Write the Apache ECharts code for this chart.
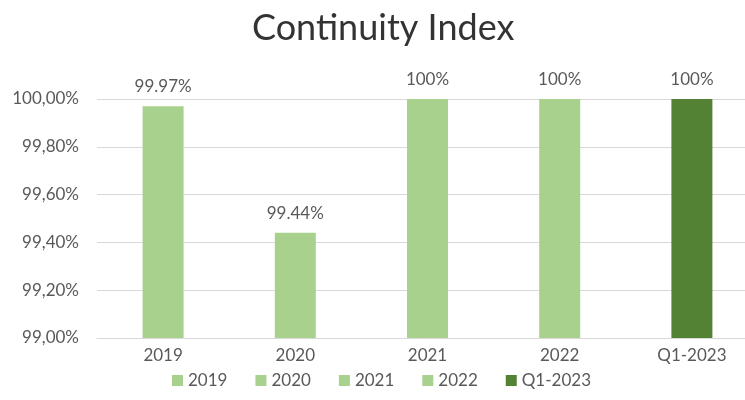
<!DOCTYPE html>
<html><head><meta charset="utf-8">
<script src="https://cdn.jsdelivr.net/npm/echarts@6/dist/echarts.min.js"></script>
<style>html,body{margin:0;padding:0;background:#fff}#c{width:745px;height:400px}</style>
</head><body><div id="c"></div>
<script>
const categories = ['2019','2020','2021','2022','Q1-2023'];
const values = [99.97, 99.44, 100, 100, 100];
const labels = ['99.97%','99.44%','100%','100%','100%'];
const colors = ['#a9d18e','#a9d18e','#a9d18e','#a9d18e','#548235'];
const yTicks = { min: 99, max: 100, interval: 0.2 };

const FONT = 'Lato, "Liberation Sans", sans-serif';
const series = categories.map((name, i) => ({
  name: name,
  type: 'bar',
  stack: 'all',
  barWidth: 41,
  itemStyle: { color: colors[i] },
  data: categories.map((c, j) => j === i ? values[i] : null),
  label: {
    show: true, position: 'top', distance: 11,
    color: '#595959', fontSize: 17, fontFamily: FONT,
    formatter: () => labels[i]
  }
}));

const chart = echarts.init(document.getElementById('c'), null, { renderer: 'canvas' });
chart.setOption({
  animation: false,
  title: {
    text: 'Continuity Index', left: 247, top: 5,
    textStyle: { fontFamily: FONT, fontSize: 36, fontWeight: 'normal', color: '#333333' }
  },
  legend: {
    bottom: 6, left: 167, itemWidth: 11, itemHeight: 11, itemGap: 28, icon: 'rect',
    textStyle: { fontFamily: FONT, fontSize: 17, color: '#595959' },
    data: categories
  },
  grid: { left: 97, width: 661, top: 99, bottom: 62, containLabel: false, outerBoundsMode: 'none' },
  xAxis: {
    type: 'category', data: categories,
    axisLine: { lineStyle: { color: '#d9d9d9' } },
    axisTick: { show: false },
    axisLabel: { fontFamily: FONT, fontSize: 17, color: '#595959', margin: 9 }
  },
  yAxis: {
    type: 'value', min: yTicks.min, max: yTicks.max, interval: yTicks.interval,
    axisLine: { show: false }, axisTick: { show: false },
    splitLine: { lineStyle: { color: '#d9d9d9', width: 1 } },
    axisLabel: {
      fontFamily: FONT, fontSize: 17, color: '#595959', margin: 18,
      formatter: v => v.toFixed(2).replace('.', ',') + '%'
    }
  },
  series: series
});
</script></body></html>
